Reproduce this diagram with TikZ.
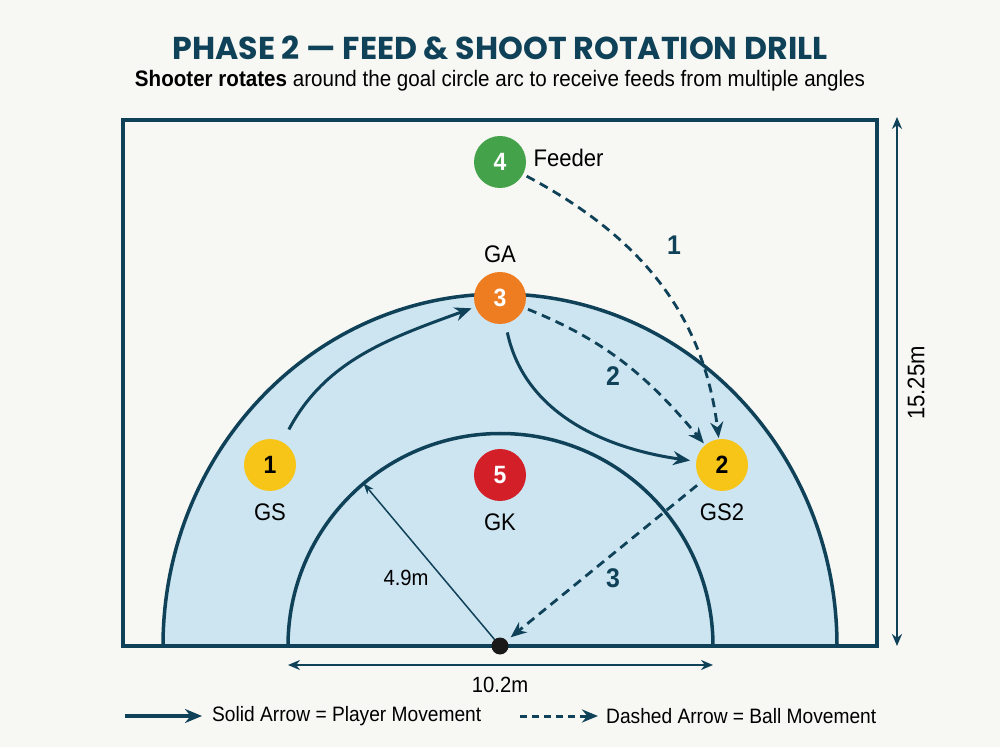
\documentclass[tikz,border=0pt]{standalone}
\usepackage{fontspec}
\usepackage{graphicx}
\setmainfont{Liberation Sans}
\newfontfamily\titlefont{Poppins}
\newfontfamily\cond{Liberation Sans}[FakeStretch=0.92]
\usetikzlibrary{arrows.meta,calc}
\definecolor{ink}{HTML}{0F4258}
\definecolor{bgc}{HTML}{F7F7F3}
\definecolor{zone}{HTML}{CDE4F1}
\definecolor{cyel}{HTML}{F6C518}
\definecolor{cora}{HTML}{EE7D22}
\definecolor{cgrn}{HTML}{44A34A}
\definecolor{cred}{HTML}{D32028}
\tikzset{
  player/.style={draw=ink, line width=3pt, -{Stealth[length=17pt,width=14pt]}},
  ball/.style={draw=ink, line width=2.8pt, dash pattern=on 9pt off 6pt, -{Stealth[length=16pt,width=13pt]}},
  dimline/.style={draw=ink, line width=2pt, {Stealth[length=12pt,width=10pt]}-{Stealth[length=12pt,width=10pt]}},
  plr/.style={circle, minimum size=52pt, inner sep=0pt, font=\cond\bfseries\fontsize{25}{25}\selectfont},
  lbl/.style={font=\cond\fontsize{24}{24}\selectfont, text=black},
  dimlbl/.style={font=\cond\fontsize{22}{22}\selectfont, text=black},
  seq/.style={font=\cond\bfseries\fontsize{27}{27}\selectfont, text=ink},
  legtxt/.style={font=\cond\fontsize{20}{20}\selectfont, text=black, anchor=west, inner sep=0pt}
}
\begin{document}
\begin{tikzpicture}[x=1pt,y=1pt]
\useasboundingbox (0,0) rectangle (1000,747);
\fill[bgc] (0,0) rectangle (1000,747);
% title
\node[inner sep=0pt] (title) at (500,699) {\resizebox{655pt}{!}{\color{ink}\titlefont\bfseries PHASE 2 — FEED \& SHOOT ROTATION DRILL}};
\node[inner sep=0pt] (subtitle) at (500,666) {\resizebox{730pt}{!}{\cond\textbf{Shooter rotates} around the goal circle arc to receive feeds from multiple angles}};
% court
\coordinate (c) at (500,101);
\fill[zone] (163,101) arc[start angle=180, end angle=0, x radius=337pt, y radius=352pt] -- cycle;
\draw[ink, line width=3.5pt] (163,101) arc[start angle=180, end angle=0, x radius=337pt, y radius=352pt];
\draw[ink, line width=3.5pt] (288,101) arc[start angle=180, end angle=0, radius=212.5pt];
\draw[ink, line width=3.5pt] (123,101) rectangle (877,627);
% dimensions
\coordinate (d1a) at (288,82);
\coordinate (d1b) at (713,82);
\draw[dimline] (d1a) -- (d1b);
\node[dimlbl] (d1) at (500,62) {10.2m};
\coordinate (d2a) at (897,101);
\coordinate (d2b) at (897,630);
\draw[dimline] (d2a) -- (d2b);
\node[dimlbl, rotate=90, font=\cond\fontsize{24}{24}\selectfont] (d2) at (916,364) {15.25m};
\coordinate (rr) at ($(c)+(130:212.5pt)$);
% players
\node[plr, fill=cyel, text=black] (n1) at (270,282) {1};
\node[plr, fill=cyel, text=black] (n2) at (722,282) {2};
\node[plr, fill=cora, text=white] (n3) at (500,449) {3};
\node[plr, fill=cgrn, text=white] (n4) at (500,585) {4};
\node[plr, fill=cred, text=white] (n5) at (500,272) {5};
\node[lbl] (l1) at (270,235) {GS};
\node[lbl] (l2) at (722,235) {GS2};
\node[lbl] (l3) at (500,493) {GA};
\node[lbl, anchor=west] (l4) at (530,589) {Feeder};
\node[lbl] (l5) at (500,225) {GK};
% radius line
\draw[ink, line width=1.5pt, -{Stealth[length=11pt,width=8pt]}] (c) -- (rr);
\node[dimlbl] (r49) at (406,169) {4.9m};
% ball
\node[circle, fill=black!90, minimum size=17pt, inner sep=0pt] (ballpt) at (c) {};
% movement
\draw[player, shorten <=14pt, shorten >=4pt] (n1) to[out=62, in=200] (n3);
\draw[player, shorten <=9pt, shorten >=6pt] (n3) to[out=-78, in=172] (n2);
\draw[ball, shorten <=4pt, shorten >=1pt] (n4) to[out=-28, in=97] (n2);
\draw[ball, shorten <=4pt, shorten >=2pt] (n3) to[out=-22, in=130] (n2);
\draw[ball, shorten <=6pt, shorten >=5pt] (n2) -- (ballpt);
\node[seq] (s1) at (674,502) {1};
\node[seq] (s2) at (613,371) {2};
\node[seq] (s3) at (613,169) {3};
% legend
\coordinate (la) at (125,31);
\coordinate (lb) at (202,31);
\draw[player, line width=4.5pt] (la) -- (lb);
\node[legtxt] (lt1) at (212,31) {\resizebox{269pt}{!}{Solid Arrow = Player Movement}};
\coordinate (lc) at (520,31);
\coordinate (ld) at (598,31);
\draw[ball, line width=3pt, dash pattern=on 7pt off 5pt] (lc) -- (ld);
\node[legtxt] (lt2) at (606,31) {\resizebox{270pt}{!}{Dashed Arrow = Ball Movement}};
\end{tikzpicture}
\end{document}
